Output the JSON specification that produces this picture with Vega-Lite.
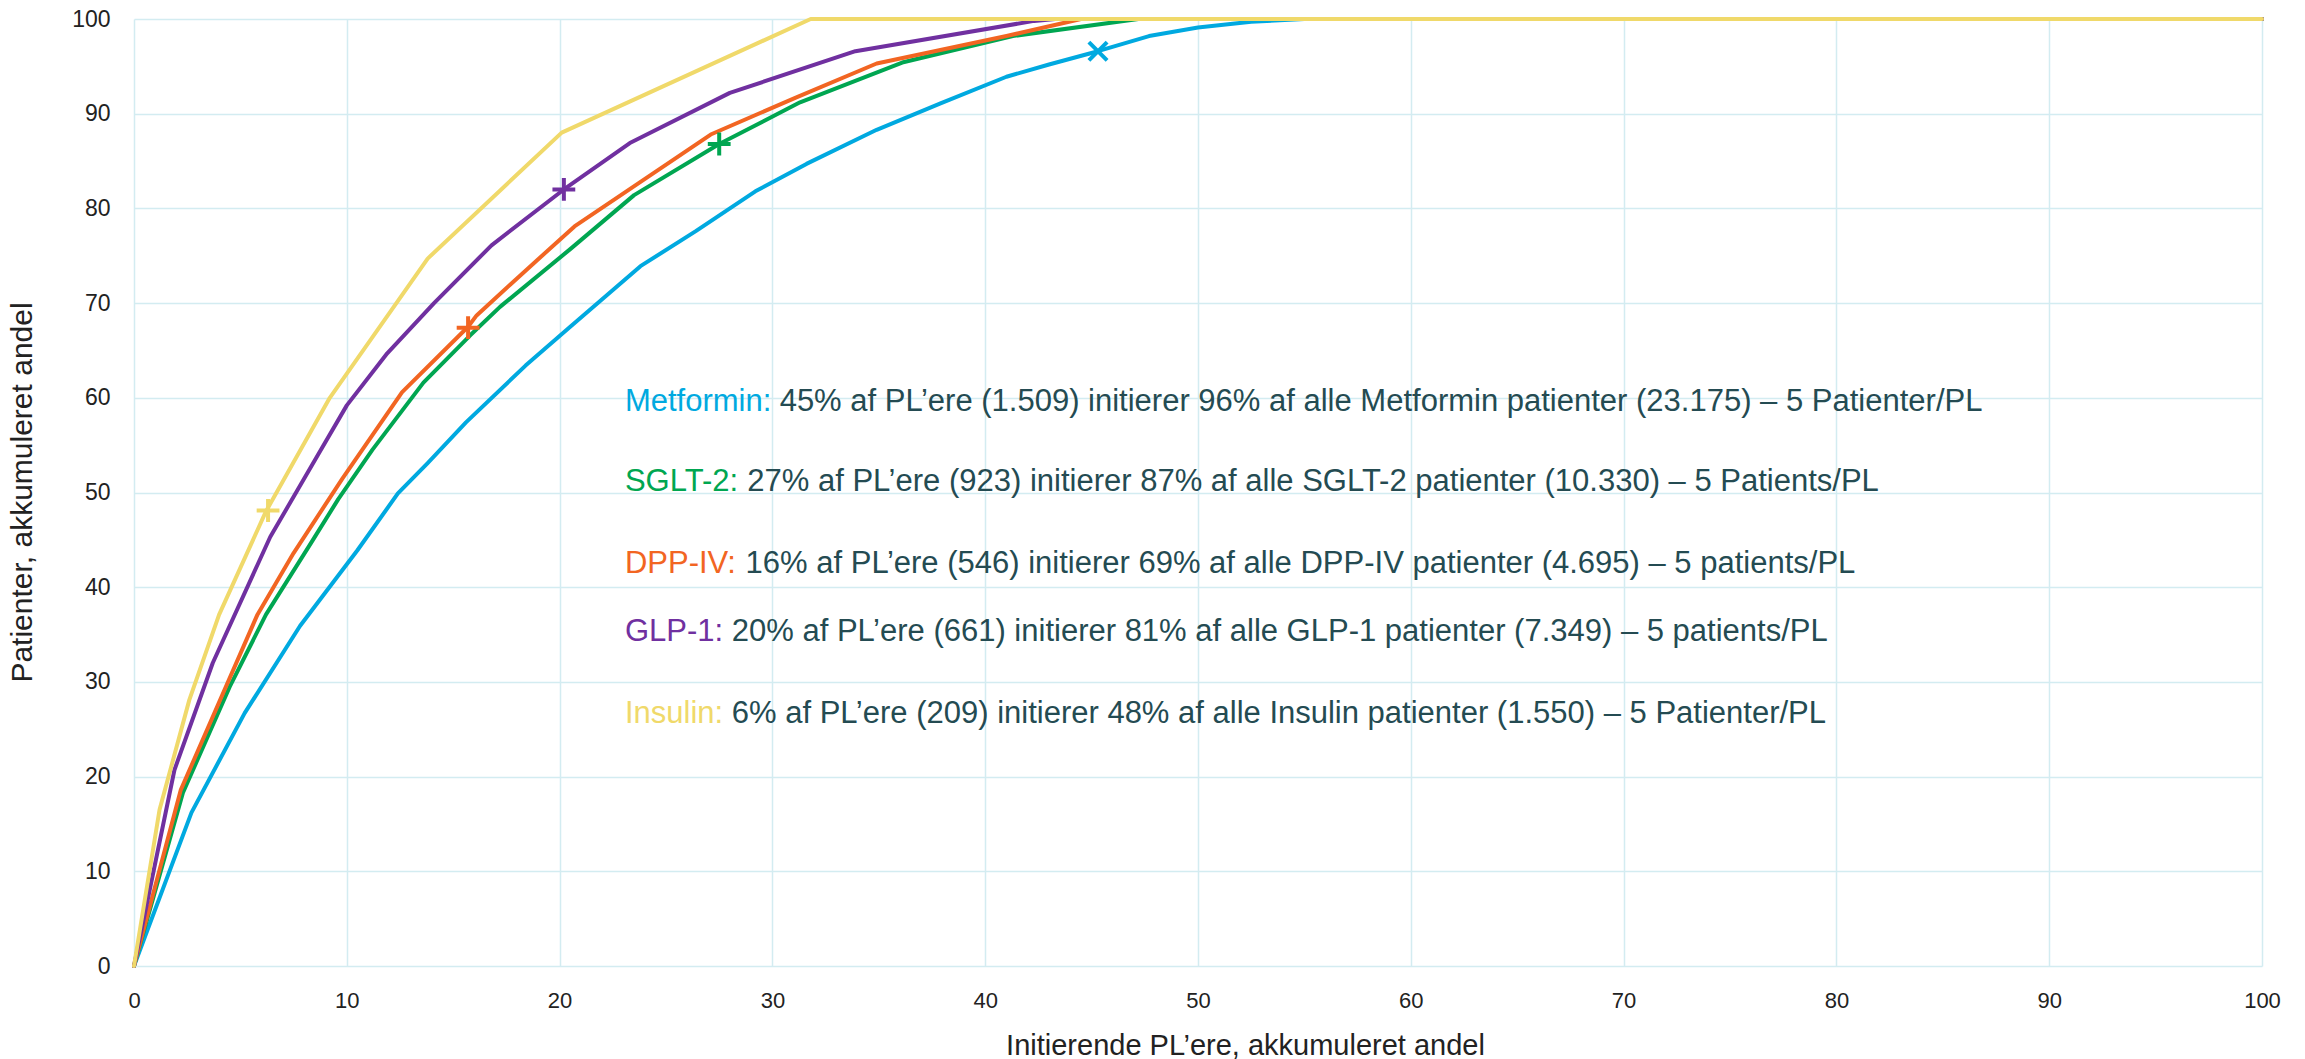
{
  "$schema": "https://vega.github.io/schema/vega-lite/v6.json",
  "width": 2128,
  "height": 947,
  "autosize": {"type": "none"},
  "padding": {"left": 134, "top": 19, "right": 43, "bottom": 93},
  "background": "white",
  "config": {"view": {"stroke": null}, "font": "Liberation Sans"},
  "datasets": {
    "curves": [
      {"series": "Metformin", "x": 0, "y": 0},
      {"series": "Metformin", "x": 2.7, "y": 16.2},
      {"series": "Metformin", "x": 5.2, "y": 26.7},
      {"series": "Metformin", "x": 7.8, "y": 35.9},
      {"series": "Metformin", "x": 10.5, "y": 43.9},
      {"series": "Metformin", "x": 12.4, "y": 49.9},
      {"series": "Metformin", "x": 13.8, "y": 53.1},
      {"series": "Metformin", "x": 15.6, "y": 57.4},
      {"series": "Metformin", "x": 18.4, "y": 63.4},
      {"series": "Metformin", "x": 20.5, "y": 67.5},
      {"series": "Metformin", "x": 23.8, "y": 73.9},
      {"series": "Metformin", "x": 26.4, "y": 77.6},
      {"series": "Metformin", "x": 29.2, "y": 81.8},
      {"series": "Metformin", "x": 31.6, "y": 84.7},
      {"series": "Metformin", "x": 34.9, "y": 88.3},
      {"series": "Metformin", "x": 37.9, "y": 91.1},
      {"series": "Metformin", "x": 41.0, "y": 93.9},
      {"series": "Metformin", "x": 43.0, "y": 95.2},
      {"series": "Metformin", "x": 45.3, "y": 96.6},
      {"series": "Metformin", "x": 47.7, "y": 98.2},
      {"series": "Metformin", "x": 50.0, "y": 99.1},
      {"series": "Metformin", "x": 52.5, "y": 99.7},
      {"series": "Metformin", "x": 55.0, "y": 100},
      {"series": "Metformin", "x": 100, "y": 100},
      {"series": "SGLT-2", "x": 0, "y": 0},
      {"series": "SGLT-2", "x": 2.3, "y": 18.3},
      {"series": "SGLT-2", "x": 4.5, "y": 29.5},
      {"series": "SGLT-2", "x": 6.2, "y": 37.1},
      {"series": "SGLT-2", "x": 8.3, "y": 44.6},
      {"series": "SGLT-2", "x": 9.6, "y": 49.3},
      {"series": "SGLT-2", "x": 11.2, "y": 54.5},
      {"series": "SGLT-2", "x": 13.6, "y": 61.6},
      {"series": "SGLT-2", "x": 15.8, "y": 66.6},
      {"series": "SGLT-2", "x": 17.2, "y": 69.6},
      {"series": "SGLT-2", "x": 20.5, "y": 75.7},
      {"series": "SGLT-2", "x": 23.5, "y": 81.4},
      {"series": "SGLT-2", "x": 27.5, "y": 86.8},
      {"series": "SGLT-2", "x": 31.3, "y": 91.2},
      {"series": "SGLT-2", "x": 36.1, "y": 95.4},
      {"series": "SGLT-2", "x": 41.3, "y": 98.2},
      {"series": "SGLT-2", "x": 47.2, "y": 100},
      {"series": "SGLT-2", "x": 100, "y": 100},
      {"series": "DPP-IV", "x": 0, "y": 0},
      {"series": "DPP-IV", "x": 2.2, "y": 18.6},
      {"series": "DPP-IV", "x": 5.8, "y": 37.1},
      {"series": "DPP-IV", "x": 7.5, "y": 43.6},
      {"series": "DPP-IV", "x": 9.8, "y": 51.5},
      {"series": "DPP-IV", "x": 12.6, "y": 60.6},
      {"series": "DPP-IV", "x": 15.7, "y": 67.5},
      {"series": "DPP-IV", "x": 16.1, "y": 68.7},
      {"series": "DPP-IV", "x": 17.7, "y": 72.0},
      {"series": "DPP-IV", "x": 20.7, "y": 78.1},
      {"series": "DPP-IV", "x": 27.1, "y": 87.8},
      {"series": "DPP-IV", "x": 31.1, "y": 91.7},
      {"series": "DPP-IV", "x": 34.9, "y": 95.3},
      {"series": "DPP-IV", "x": 41.0, "y": 98.2},
      {"series": "DPP-IV", "x": 44.5, "y": 100},
      {"series": "DPP-IV", "x": 100, "y": 100},
      {"series": "GLP-1", "x": 0, "y": 0},
      {"series": "GLP-1", "x": 1.9, "y": 20.7},
      {"series": "GLP-1", "x": 3.7, "y": 32.0},
      {"series": "GLP-1", "x": 6.4, "y": 45.3},
      {"series": "GLP-1", "x": 8.6, "y": 53.8},
      {"series": "GLP-1", "x": 10.0, "y": 59.2},
      {"series": "GLP-1", "x": 11.9, "y": 64.7},
      {"series": "GLP-1", "x": 14.1, "y": 70.0},
      {"series": "GLP-1", "x": 16.8, "y": 76.1},
      {"series": "GLP-1", "x": 20.2, "y": 82.0},
      {"series": "GLP-1", "x": 23.3, "y": 86.9},
      {"series": "GLP-1", "x": 28.0, "y": 92.2},
      {"series": "GLP-1", "x": 33.9, "y": 96.6},
      {"series": "GLP-1", "x": 42.3, "y": 99.8},
      {"series": "GLP-1", "x": 43.3, "y": 100},
      {"series": "GLP-1", "x": 100, "y": 100},
      {"series": "Insulin", "x": 0, "y": 0},
      {"series": "Insulin", "x": 1.2, "y": 16.5},
      {"series": "Insulin", "x": 2.6, "y": 28.1},
      {"series": "Insulin", "x": 4.0, "y": 37.1},
      {"series": "Insulin", "x": 6.2, "y": 48.0},
      {"series": "Insulin", "x": 9.2, "y": 60.0},
      {"series": "Insulin", "x": 13.8, "y": 74.7},
      {"series": "Insulin", "x": 20.1, "y": 88.0},
      {"series": "Insulin", "x": 31.8, "y": 100},
      {"series": "Insulin", "x": 100, "y": 100}
    ],
    "markers": [
      {"series": "Metformin", "x": 45.3, "y": 96.6, "shape": "x"},
      {"series": "SGLT-2", "x": 27.5, "y": 86.8, "shape": "plus"},
      {"series": "DPP-IV", "x": 15.7, "y": 67.4, "shape": "plus"},
      {"series": "GLP-1", "x": 20.2, "y": 82.0, "shape": "plus"},
      {"series": "Insulin", "x": 6.3, "y": 48.1, "shape": "plus"}
    ],
    "notes": [
      {"series": "Metformin", "part": "name", "x": 23.07, "y": 58.64, "text": "Metformin:"},
      {"series": "Metformin", "part": "rest", "x": 30.34, "y": 58.64, "text": "45% af PL’ere (1.509) initierer 96% af alle Metformin patienter (23.175) – 5 Patienter/PL"},
      {"series": "SGLT-2", "part": "name", "x": 23.07, "y": 50.19, "text": "SGLT-2:"},
      {"series": "SGLT-2", "part": "rest", "x": 28.82, "y": 50.19, "text": "27% af PL’ere (923) initierer 87% af alle SGLT-2 patienter (10.330) – 5 Patients/PL"},
      {"series": "DPP-IV", "part": "name", "x": 23.07, "y": 41.53, "text": "DPP-IV:"},
      {"series": "DPP-IV", "part": "rest", "x": 28.74, "y": 41.53, "text": "16% af PL’ere (546) initierer 69% af alle DPP-IV patienter (4.695) – 5 patients/PL"},
      {"series": "GLP-1", "part": "name", "x": 23.07, "y": 34.35, "text": "GLP-1:"},
      {"series": "GLP-1", "part": "rest", "x": 28.09, "y": 34.35, "text": "20% af PL’ere (661) initierer 81% af alle GLP-1 patienter (7.349) – 5 patients/PL"},
      {"series": "Insulin", "part": "name", "x": 23.07, "y": 25.69, "text": "Insulin:"},
      {"series": "Insulin", "part": "rest", "x": 28.09, "y": 25.69, "text": "6% af PL’ere (209) initierer 48% af alle Insulin patienter (1.550) – 5 Patienter/PL"}
    ]
  },
  "encoding": {
    "x": {
      "field": "x",
      "type": "quantitative",
      "scale": {"domain": [0, 100], "nice": false, "zero": false},
      "axis": {
        "values": [0, 10, 20, 30, 40, 50, 60, 70, 80, 90, 100],
        "grid": true,
        "gridColor": "#d3ecf1",
        "gridWidth": 1.5,
        "domain": false,
        "ticks": false,
        "tickSize": 0,
        "labelFlush": false,
        "labelOverlap": false,
        "labelFont": "Liberation Sans",
        "labelFontSize": 22,
        "labelColor": "#222222",
        "labelPadding": 41,
        "labelBaseline": "alphabetic",
        "title": "Initierende PL’ere, akkumuleret andel",
        "titleFont": "Liberation Sans",
        "titleFontSize": 29,
        "titleFontWeight": "normal",
        "titleColor": "#222222",
        "titleX": 1111,
        "titleY": 88,
        "titleAlign": "center",
        "titleBaseline": "alphabetic"
      }
    },
    "y": {
      "field": "y",
      "type": "quantitative",
      "scale": {"domain": [0, 100], "nice": false, "zero": false},
      "axis": {
        "values": [0, 10, 20, 30, 40, 50, 60, 70, 80, 90, 100],
        "grid": true,
        "gridColor": "#d3ecf1",
        "gridWidth": 1.5,
        "domain": false,
        "ticks": false,
        "tickSize": 0,
        "labelFlush": false,
        "labelOverlap": false,
        "labelFont": "Liberation Sans",
        "labelFontSize": 23,
        "labelColor": "#222222",
        "labelPadding": 24,
        "labelBaseline": "middle",
        "title": "Patienter, akkumuleret andel",
        "titleFont": "Liberation Sans",
        "titleFontSize": 30,
        "titleFontWeight": "normal",
        "titleColor": "#222222",
        "titleAngle": -90,
        "titleX": -112,
        "titleY": 473,
        "titleAlign": "center",
        "titleBaseline": "middle"
      }
    }
  },
  "layer": [
    {
      "data": {"name": "notes"},
      "transform": [{"filter": "datum.part === 'rest'"}],
      "mark": {"type": "text", "align": "left", "baseline": "alphabetic", "font": "Liberation Sans", "fontSize": 31, "color": "#244b52"},
      "encoding": {"text": {"field": "text"}}
    },
    {
      "data": {"name": "notes"},
      "transform": [{"filter": "datum.part === 'name'"}],
      "mark": {"type": "text", "align": "left", "baseline": "alphabetic", "font": "Liberation Sans", "fontSize": 31},
      "encoding": {
        "text": {"field": "text"},
        "color": {"field": "series", "type": "nominal", "legend": null,
          "scale": {"domain": ["Metformin", "SGLT-2", "DPP-IV", "GLP-1", "Insulin"], "range": ["#00a9e0", "#00a651", "#f26522", "#7030a0", "#f0d96a"]}}
      }
    },
    {
      "data": {"name": "curves"},
      "mark": {"type": "line", "strokeWidth": 4, "strokeJoin": "round", "strokeCap": "round", "clip": false},
      "encoding": {
        "color": {"field": "series", "type": "nominal", "legend": null,
          "scale": {"domain": ["Metformin", "SGLT-2", "DPP-IV", "GLP-1", "Insulin"], "range": ["#00a9e0", "#00a651", "#f26522", "#7030a0", "#f0d96a"]}}
      }
    },
    {
      "data": {"name": "markers"},
      "mark": {"type": "point", "filled": false, "strokeWidth": 4, "size": 520, "opacity": 1},
      "encoding": {
        "color": {"field": "series", "type": "nominal", "legend": null,
          "scale": {"domain": ["Metformin", "SGLT-2", "DPP-IV", "GLP-1", "Insulin"], "range": ["#00a9e0", "#00a651", "#f26522", "#7030a0", "#f0d96a"]}},
        "shape": {"field": "shape", "type": "nominal", "legend": null,
          "scale": {"domain": ["plus", "x"], "range": ["M-1,0L1,0M0,-1L0,1", "M-0.8,-0.8L0.8,0.8M-0.8,0.8L0.8,-0.8"]}}
      }
    }
  ]
}
